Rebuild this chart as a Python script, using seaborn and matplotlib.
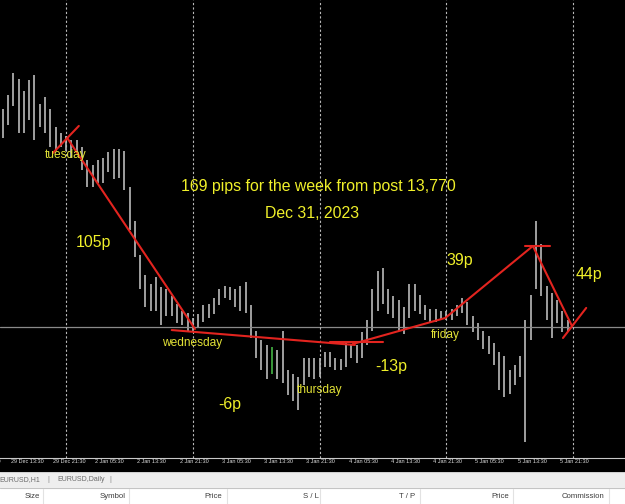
import numpy as np
import pandas as pd
import seaborn as sns
import matplotlib.pyplot as plt
from matplotlib.patches import Rectangle

# EURUSD hourly bars, x = trading hours counted from 29 Dec 13:30 (weekend skipped)
hours = np.arange(-1.5, 106, 1.0)
highs = [1.1061, 1.1069, 1.1081, 1.1078, 1.1071, 1.1077, 1.1080, 1.1064, 1.1068, 1.1061,
         1.1051, 1.1048, 1.1046, 1.1044, 1.1044, 1.1040, 1.1033, 1.1030, 1.1033, 1.1034,
         1.1037, 1.1039, 1.1039, 1.1038, 1.1018, 1.0999, 1.0980, 1.0969, 1.0964, 1.0968,
         1.0962, 1.0961, 1.0957, 1.0953, 1.0949, 1.0948, 1.0945, 1.0947, 1.0952, 1.0953,
         1.0956, 1.0961, 1.0963, 1.0962, 1.0961, 1.0963, 1.0965, 1.0952, 1.0938, 1.0933,
         1.0930, 1.0929, 1.0927, 1.0938, 1.0916, 1.0914, 1.0912, 1.0923, 1.0923, 1.0923,
         1.0923, 1.0926, 1.0926, 1.0923, 1.0922, 1.0931, 1.0930, 1.0930, 1.0937, 1.0944,
         1.0961, 1.0971, 1.0973, 1.0961, 1.0957, 1.0955, 1.0951, 1.0964, 1.0964, 1.0958,
         1.0952, 1.0950, 1.0950, 1.0949, 1.0949, 1.0950, 1.0952, 1.0956, 1.0954, 1.0946,
         1.0942, 1.0938, 1.0935, 1.0931, 1.0926, 1.0924, 1.0916, 1.0919, 1.0924, 1.0944,
         1.0958, 1.0999, 1.0986, 1.0963, 1.0959, 1.0955, 1.0949, 1.0944]
lows = [1.1045, 1.1052, 1.1063, 1.1048, 1.1048, 1.1055, 1.1044, 1.1051, 1.1048, 1.1040,
        1.1038, 1.1040, 1.1038, 1.1034, 1.1037, 1.1027, 1.1018, 1.1018, 1.1020, 1.1020,
        1.1026, 1.1022, 1.1023, 1.1016, 1.0994, 1.0979, 1.0961, 1.0951, 1.0949, 1.0949,
        1.0941, 1.0946, 1.0946, 1.0942, 1.0941, 1.0938, 1.0938, 1.0940, 1.0943, 1.0945,
        1.0947, 1.0952, 1.0956, 1.0955, 1.0951, 1.0949, 1.0948, 1.0934, 1.0923, 1.0916,
        1.0911, 1.0914, 1.0911, 1.0909, 1.0902, 1.0899, 1.0894, 1.0908, 1.0912, 1.0911,
        1.0912, 1.0918, 1.0918, 1.0916, 1.0916, 1.0918, 1.0923, 1.0920, 1.0923, 1.0930,
        1.0938, 1.0949, 1.0953, 1.0947, 1.0945, 1.0938, 1.0936, 1.0945, 1.0949, 1.0947,
        1.0944, 1.0943, 1.0943, 1.0944, 1.0944, 1.0944, 1.0946, 1.0948, 1.0941, 1.0937,
        1.0933, 1.0928, 1.0925, 1.0919, 1.0905, 1.0901, 1.0903, 1.0908, 1.0912, 1.0876,
        1.0933, 1.0961, 1.0957, 1.0944, 1.0934, 1.0942, 1.0937, 1.0938]
green_bar = 49.5
bid_price = 1.0940

day_starts = [10.5, 34.5, 58.5, 82.5, 106.5]
first_tick = (-8, "29 Dec 05:30")
tick_hours = [0, 8, 16, 24, 32, 40, 48, 56, 64, 72, 80, 88, 96, 104]
tick_labels = ["29 Dec 13:30", "29 Dec 21:30", "2 Jan 05:30", "2 Jan 13:30",
               "2 Jan 21:30", "3 Jan 05:30", "3 Jan 13:30", "3 Jan 21:30", "4 Jan 05:30",
               "4 Jan 13:30", "4 Jan 21:30", "5 Jan 05:30", "5 Jan 13:30", "5 Jan 21:30"]

# hand drawn trend lines (segment id, hour, price)
seg_id = [0, 0, 1, 1, 2, 2, 3, 3, 4, 4, 4, 5, 5, 6, 6, 7, 7]
seg_h = [8.0, 12.9, 10.7, 34.9, 30.5, 65.2, 60.5, 70.5, 64.8, 82.3, 98.9,
         97.4, 102.1, 98.9, 106.3, 104.6, 109.0]
seg_p = [1.10367, 1.10517, 1.10450, 1.09389, 1.09383, 1.09300, 1.09317, 1.09317,
         1.09306, 1.09450, 1.09850, 1.09850, 1.09850, 1.09850, 1.09406, 1.09339, 1.09506]

# annotations: text, hour, price, size
notes = ["tuesday", "105p", "169 pips for the week from post 13,770", "Dec 31, 2023",
         "wednesday", "-6p", "thursday", "-13p", "friday", "39p", "44p"]
note_h = [10.5, 15.7, 58.3, 57.1, 34.4, 41.4, 58.6, 72.1, 82.4, 85.0, 109.5]
note_p = [1.10356, 1.09867, 1.10183, 1.10028, 1.09311, 1.08972, 1.09050, 1.09178,
          1.09356, 1.09772, 1.09689]
note_big = [False, True, True, True, False, True, False, True, False, True, True]

headers = ["Size", "Symbol", "Price", "S / L", "T / P", "Price", "Commission"]

sns.set_style("dark", {"axes.facecolor": "black", "figure.facecolor": "black"})
plt.rcParams['font.family'] = ['Liberation Sans', 'DejaVu Sans']

fig = plt.figure(figsize=(6.25, 5.04), dpi=100, facecolor='black')
ax = fig.add_axes([0, 1 - 457.7 / 504, 1, 457.7 / 504])
ax.set_facecolor('black')

colors = ['#3a9a3a' if h == green_bar else '#a0a0a0' for h in hours]
ax.vlines(hours, lows, highs, colors=colors, lw=1.4)

ax.axhline(bid_price, color='#8a8a8a', lw=0.9)
for d in day_starts:
    ax.axvline(d, color='#b8b8b8', lw=0.8, ls=(0, (2, 2)))

trend = pd.DataFrame({"seg": seg_id, "h": seg_h, "price": seg_p})
sns.lineplot(data=trend, x="h", y="price", units="seg", estimator=None, sort=False,
             color='#e3241f', lw=1.5, ax=ax, legend=False)

for t, h, p, big in zip(notes, note_h, note_p, note_big):
    ax.text(h, p, t, ha='center', va='center', color='#f0f02a' if big else '#e2e236',
            fontsize=11.4 if big else 8.6, clip_on=False)

ax.set_xticks(tick_hours)
ax.set_xticklabels(tick_labels, ha='left', fontsize=4.0, color='#dcdcdc')
ax.tick_params(axis='x', colors='#c8c8c8', length=3, width=0.6, pad=-2, labelcolor='#dcdcdc')
ax.set_yticks([])
ax.set_xlim(-2.03, 116.35)
ax.set_ylim(1.086739, 1.112167)
ax.set_xlabel("")
ax.set_ylabel("")
for s in ['top', 'left', 'right']:
    ax.spines[s].set_visible(False)
ax.spines['bottom'].set_color('#c8c8c8')
ax.spines['bottom'].set_linewidth(0.8)
ax.grid(False)
# first label sits left of the view, only its tail shows
ax.text(first_tick[0], -0.003, first_tick[1], transform=ax.get_xaxis_transform(),
        ha='left', va='top', fontsize=4.0, color='#dcdcdc', clip_on=False)

# terminal panel under the chart
bx = fig.add_axes([0, 0, 1, 32.5 / 504])
bx.set_xlim(0, 625)
bx.set_ylim(504, 471.5)
bx.axis('off')
bx.add_patch(Rectangle((0, 471.5), 625, 16.5, color='#eeeeee'))
bx.add_patch(Rectangle((0, 488), 625, 16, color='#ffffff'))
bx.plot([0, 625], [472, 472], color='#d0d0d0', lw=0.8)
bx.plot([0, 625], [488, 488], color='#c4c4c4', lw=0.8)
bx.text(-1, 479.5, "EURUSD,H1", fontsize=5.0, color='#6a6a6a', va='center')
bx.text(48, 479.5, "|", fontsize=5.0, color='#8a8a8a', va='center', ha='center')
bx.text(57, 479.5, "EURUSD,Daily", fontsize=5.0, color='#6a6a6a', va='center')
bx.text(110, 479.5, "|", fontsize=5.0, color='#8a8a8a', va='center', ha='center')
head_right = [40, 126, 222, 319, 415, 509, 604]
col_sep = [43, 129, 227, 320, 420, 513, 609]
for t, xr in zip(headers, head_right):
    bx.text(xr, 497, t, fontsize=5.6, color='#3c3c3c', va='center', ha='right')
for xs in col_sep:
    bx.plot([xs, xs], [489, 504], color='#e2e2e2', lw=0.8)

fig.savefig("out.png", dpi=100, facecolor='black')
